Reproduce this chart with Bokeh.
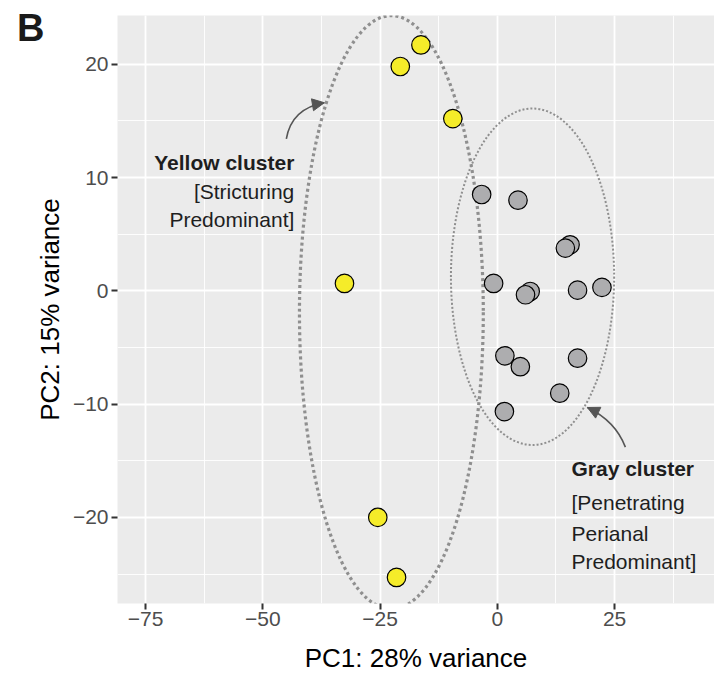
from bokeh.plotting import figure
from bokeh.models import (Range1d, SingleIntervalTicker, FixedTicker, LinearAxis,
                          Arrow, NormalHead)
from bokeh.core.properties import value
from bokeh.embed import file_html
from bokeh.resources import INLINE

# ---------------- data ----------------
yellow_pc1 = [-16.3, -20.7, -9.5, -32.6, -25.5, -21.5]
yellow_pc2 = [21.7, 19.8, 15.2, 0.65, -20.0, -25.3]

gray_pc1 = [-3.35, 4.4, 15.5, 14.5, -0.8, 7.0, 6.0, 17.1, 22.3, 1.6, 4.9, 17.1, 13.3, 1.5]
gray_pc2 = [8.5, 8.0, 4.06, 3.77, 0.65, -0.06, -0.35, 0.06, 0.3, -5.74, -6.7, -5.95, -9.04, -10.66]

# cluster ellipses (centre x, centre y, width, height)
ell_yellow = [-22.6, -1.9, 39.2, 52.4]
ell_gray = [7.5, 1.24, 34.8, 29.7]

x_ticks = [-75, -50, -25, 0, 25]
x_tick_labels = ["\u221275", "\u221250", "\u221225", "0", "25"]
y_ticks = [-20, -10, 0, 10, 20]
y_tick_labels = ["\u221220", "\u221210", "0", "10", "20"]

yellow_text = ["Yellow cluster", "[Stricturing", "Predominant]"]
gray_text = ["Gray cluster", "[Penetrating", "Perianal", "Predominant]"]

panel_letter = "B"

FONT = "Liberation Sans"

W, H = 714, 676
BL, BT, BB = 117, 15, 73

p = figure(width=W, height=H, output_backend="svg", toolbar_location=None,
           x_range=Range1d(-81.0, 46.3), y_range=Range1d(-27.6, 24.3),
           min_border_left=BL, min_border_right=0, min_border_top=BT, min_border_bottom=BB,
           background_fill_color="#EBEBEB", border_fill_color="white",
           outline_line_color=None)

# grid
p.xaxis.ticker = SingleIntervalTicker(interval=25, num_minor_ticks=2)
p.yaxis.ticker = SingleIntervalTicker(interval=10, num_minor_ticks=2)
for g in (p.xgrid, p.ygrid):
    g.grid_line_color = "white"
    g.grid_line_width = 1.8
    g.minor_grid_line_color = "white"
    g.minor_grid_line_width = 0.9

for ax in (p.xaxis, p.yaxis):
    ax.axis_line_color = None
    ax.major_tick_line_color = "#333333"
    ax.major_tick_line_width = 2
    ax.major_tick_out = 6
    ax.major_tick_in = 0
    ax.minor_tick_line_color = None
    ax.major_label_text_font = FONT
    ax.major_label_text_font_size = "21px"
    ax.major_label_text_color = "#4D4D4D"
    ax.axis_label_text_font = FONT
    ax.axis_label_text_font_size = "26px"
    ax.axis_label_text_font_style = "normal"
    ax.axis_label_text_color = "black"

p.xaxis.major_label_overrides = dict(zip(x_ticks, x_tick_labels))
p.yaxis.major_label_overrides = dict(zip(y_ticks, y_tick_labels))
p.xaxis.axis_label = "PC1: 28% variance"
p.yaxis.axis_label = "PC2: 15% variance"
p.xaxis.major_label_standoff = 2
p.yaxis.major_label_standoff = 3
p.xaxis.axis_label_standoff = 14
p.yaxis.axis_label_standoff = 5

# panel letter, drawn as the single label of an extra outer left axis
letter_pos = 23.24
letter_axis = LinearAxis(ticker=FixedTicker(ticks=[letter_pos]),
                         major_label_overrides={letter_pos: panel_letter},
                         axis_line_color=None, major_tick_line_color=None,
                         minor_tick_line_color=None, major_tick_out=0, major_tick_in=0,
                         major_label_standoff=-13,
                         major_label_text_font=FONT, major_label_text_font_size="38px",
                         major_label_text_font_style="bold",
                         major_label_text_color="#1A1A1A")
p.add_layout(letter_axis, "left")

# ellipses
p.ellipse(x=[ell_yellow[0]], y=[ell_yellow[1]], width=[ell_yellow[2]], height=[ell_yellow[3]],
          fill_color=None, line_color="#8F8F8F", line_width=3.2, line_dash="3 3")
p.ellipse(x=[ell_gray[0]], y=[ell_gray[1]], width=[ell_gray[2]], height=[ell_gray[3]],
          fill_color=None, line_color="#8F8F8F", line_width=2, line_dash="2 2")

# points
p.scatter(x=gray_pc1, y=gray_pc2, size=18.5, fill_color="#ADADAF",
          line_color="black", line_width=1.2)
p.scatter(x=yellow_pc1, y=yellow_pc2, size=18.5, fill_color="#F5EC29",
          line_color="black", line_width=1.2)

# curved arrows
arrow_col = "#555555"
ya = dict(x0=-45.0, y0=13.4, cx=-43.9, cy=16.1, x1=-36.9, y1=16.6)
ga = dict(x0=27.3, y0=-13.8, cx=25.2, cy=-11.5, x1=19.2, y1=-10.3)
for a in (ya, ga):
    p.quadratic(x0=[a["x0"]], y0=[a["y0"]], x1=[a["x1"]], y1=[a["y1"]],
                cx=[a["cx"]], cy=[a["cy"]], line_color=arrow_col, line_width=1.6)
    dx = a["x1"] - a["cx"]
    dy = a["y1"] - a["cy"]
    p.add_layout(Arrow(end=NormalHead(size=12, fill_color=arrow_col, line_color=arrow_col),
                       x_start=a["x1"] - 0.05 * dx, y_start=a["y1"] - 0.05 * dy,
                       x_end=a["x1"], y_end=a["y1"], line_alpha=0))

# annotation texts
y_lines = [11.3, 8.75, 6.3]
for i, t in enumerate(yellow_text):
    p.text(x=[-43.3], y=[y_lines[i]], text=[t], text_font=value(FONT),
           text_font_size="21px", text_align="right", text_baseline="alphabetic",
           text_color="#1E1E1E", text_font_style="bold" if i == 0 else "normal")

g_lines = [-15.7, -18.7, -21.4, -23.9]
for i, t in enumerate(gray_text):
    p.text(x=[15.8], y=[g_lines[i]], text=[t], text_font=value(FONT),
           text_font_size="21px", text_align="left", text_baseline="alphabetic",
           text_color="#1E1E1E", text_font_style="bold" if i == 0 else "normal")

open("out.html", "w").write(file_html(p, INLINE))
